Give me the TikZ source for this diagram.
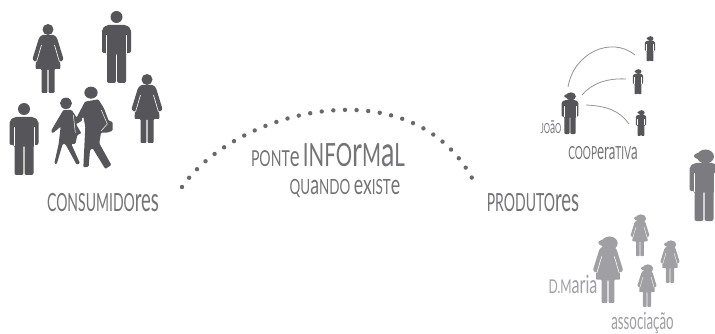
\documentclass[tikz,border=0pt]{standalone}
\usepackage{fontspec}
\usepackage{tikz}
\usetikzlibrary{calc}
\newfontfamily\thinfont[FakeStretch=0.56]{Lato}
\newfontfamily\widefont[FakeStretch=0.64]{Lato}
\definecolor{escuro}{HTML}{55555A}
\definecolor{medio}{HTML}{69696C}
\definecolor{letra}{HTML}{747477}
\definecolor{claro}{HTML}{7C7C80}
\definecolor{palido}{HTML}{A0A0A4}
\newcommand{\LEGENDA}[2]
{%
    {\fontsize{#1}{#1}\thinfont\selectfont #2}%
}
\newcommand{\LEGENDAW}[2]
{%
    {\fontsize{#1}{#1}\widefont\selectfont #2}%
}
\newcommand{\ALTA}[1]{{\addfontfeature{Scale=1.32}#1}}
\newcommand{\MANBODY}[2]
{
    \fill[#2,rounded corners=#1*2pt] (-10,-14) -- (10,-14) -- (14.5,-18) -- (14.5,-42) -- (9.5,-42)
        -- (9.5,-72) -- (0.6,-72) -- (0.6,-42) -- (-0.6,-42) -- (-0.6,-72) -- (-9.5,-72) -- (-9.5,-42)
        -- (-14.5,-42) -- (-14.5,-18) -- cycle;
    \draw[white,line width=#1*0.9pt] (10,-24) -- (10,-43) (-10,-24) -- (-10,-43);
}
\newcommand{\WOMANBODY}[2]
{
    \fill[#2,rounded corners=#1*1pt] (-6,-11) -- (6,-11) -- (9,-14) -- (15.5,-35) -- (13,-38) -- (12,-36) -- (12.5,-45) -- (6.5,-45)
        -- (6.5,-69) -- (0.6,-69) -- (0.6,-45) -- (-0.6,-45) -- (-0.6,-69) -- (-6.5,-69) -- (-6.5,-45) -- (-12.5,-45)
        -- (-12,-36) -- (-13,-38) -- (-15.5,-35) -- (-9,-14) -- cycle;
    \draw[white,line width=#1*0.6pt] (6.5,-21) -- (11.5,-38) (-6.5,-21) -- (-11.5,-38);
}
\newcommand{\HAIR}[1]
{
    \fill[#1] (1.5,-7.5) ellipse (8.5 and 7);
    \fill[#1] (-2.5,-7) ellipse (7.5 and 3.5);
}
\newcommand{\MAN}[4]
{
    \begin{scope}[shift={(#1,-#2)},scale=#3]
        \fill[#4] (0,-6) circle (6);
        \MANBODY{#3}{#4}
    \end{scope}
}
\newcommand{\WOMAN}[4]
{
    \begin{scope}[shift={(#1,-#2)},scale=#3]
        \fill[#4] (0,-5.5) circle (5.5);
        \WOMANBODY{#3}{#4}
    \end{scope}
}
\newcommand{\MANHAIR}[4]
{
    \begin{scope}[shift={(#1,-#2)},scale=#3]
        \HAIR{#4}
        \MANBODY{#3}{#4}
    \end{scope}
}
\newcommand{\WOMANHAIR}[4]
{
    \begin{scope}[shift={(#1,-#2)},scale=#3]
        \HAIR{#4}
        \WOMANBODY{#3}{#4}
    \end{scope}
}
\tikzset{
  legenda/.style={inner sep=0pt,anchor=center},
  ligacao/.style={line width=0.8pt,color=gray!85},
  ponte/.style={line width=4.4pt,line cap=round,dash pattern=on 0pt off 11.65pt,color=medio},
}
\begin{document}
\begin{tikzpicture}[x=1pt,y=1pt]
    \useasboundingbox[fill=white] (0,0) rectangle (715,-334);

    % consumidores
    \MAN{116.5}{11}{1}{escuro}
    \WOMAN{48}{24}{1}{escuro}
    \WOMAN{147}{74}{1}{escuro}
    \MAN{24}{103}{1}{escuro}
    \begin{scope}[x=0.3333pt,y=-0.3333pt]
        \fill[escuro] (198,310) ellipse (18 and 17);
        \fill[escuro,rounded corners=1pt] (190,330) -- (215,330) -- (232,355) -- (244,352) -- (247,362) -- (228,372) -- (244,400) -- (232,405)
            -- (226,432) -- (214,432) -- (240,490) -- (230,494) -- (196,432) -- (188,432) -- (170,493) -- (163,490) -- (176,432)
            -- (182,380) -- (158,400) -- (153,393) -- cycle;
        \fill[escuro] (273,278) ellipse (20 and 18);
        \fill[escuro,rounded corners=1pt] (255,305) -- (295,298) -- (312,325) -- (326,362) -- (338,366) -- (338,392) -- (322,398) -- (303,398)
            -- (298,430) -- (334,495) -- (316,507) -- (278,445) -- (270,450) -- (266,500) -- (250,502) -- (256,380) -- (250,350)
            -- (232,372) -- (226,360) -- cycle;
        \draw[white,line width=0.5pt] (304,330) -- (322,372) -- (304,392);
        \draw[white,line width=0.5pt] (220,345) -- (226,398);
    \end{scope}

    % produtores
    \MANHAIR{570}{92}{0.585}{escuro}
    \MANHAIR{650}{36}{0.35}{escuro}
    \MANHAIR{638}{69}{0.35}{escuro}
    \MANHAIR{641}{110}{0.36}{escuro}
    \MANHAIR{704}{149}{1}{claro}
    \WOMANHAIR{608}{236}{0.97}{palido}
    \WOMANHAIR{640}{214}{0.61}{palido}
    \WOMANHAIR{670}{240}{0.62}{palido}
    \WOMANHAIR{647}{264}{0.62}{palido}

    \coordinate (joao a) at (568,-87);
    \coordinate (joao b) at (582,-95);
    \coordinate (joao c) at (586,-105);
    \coordinate (coop a) at (635,-55);
    \coordinate (coop b) at (626,-79);
    \coordinate (coop c) at (629,-124);
    \draw[ligacao] (joao a) .. controls (574,-52) and (612,-36) .. (coop a);
    \draw[ligacao] (joao b) .. controls (592,-83) and (608,-78) .. (coop b);
    \draw[ligacao] (joao c) .. controls (606,-106) and (619,-110) .. (coop c);

    % ponte
    \coordinate (ponte a) at (182,-187);
    \coordinate (ponte b) at (472,-178);
    \draw[ponte] (ponte a) .. controls (235,-110) and (410,-65) .. (ponte b);

    % textos
    \node[legenda,text=letra] (consumidores) at (103,-203) {\LEGENDA{25pt}{CONSUMIDO\ALTA{res}}};
    \node[legenda,text=letra] (produtores) at (533,-203) {\LEGENDA{25pt}{PRODUTO\ALTA{res}}};
    \node[legenda,text=letra] (ponte) at (328,-155) {\LEGENDAW{22pt}{PONT\ALTA{e}} \LEGENDAW{32pt}{INFO\ALTA{r}M\ALTA{a}L}};
    \node[legenda,text=letra] (quando) at (345,-188) {\LEGENDAW{21pt}{QU\ALTA{a}NDO \ALTA{ex}IST\ALTA{e}}};
    \node[legenda,text=claro] (joao) at (551,-127) {\LEGENDA{14pt}{JO\ALTA{ã}O}};
    \node[legenda,text=letra] (cooperativa) at (603,-153) {\LEGENDA{18pt}{COOP\ALTA{era}TIV\ALTA{a}}};
    \node[legenda,text=palido] (maria) at (573,-284) {\LEGENDAW{19pt}{D.M\ALTA{aria}}};
    \node[legenda,text=palido] (associacao) at (642.5,-323) {\LEGENDA{18pt}{\ALTA{associação}}};
\end{tikzpicture}
\end{document}
